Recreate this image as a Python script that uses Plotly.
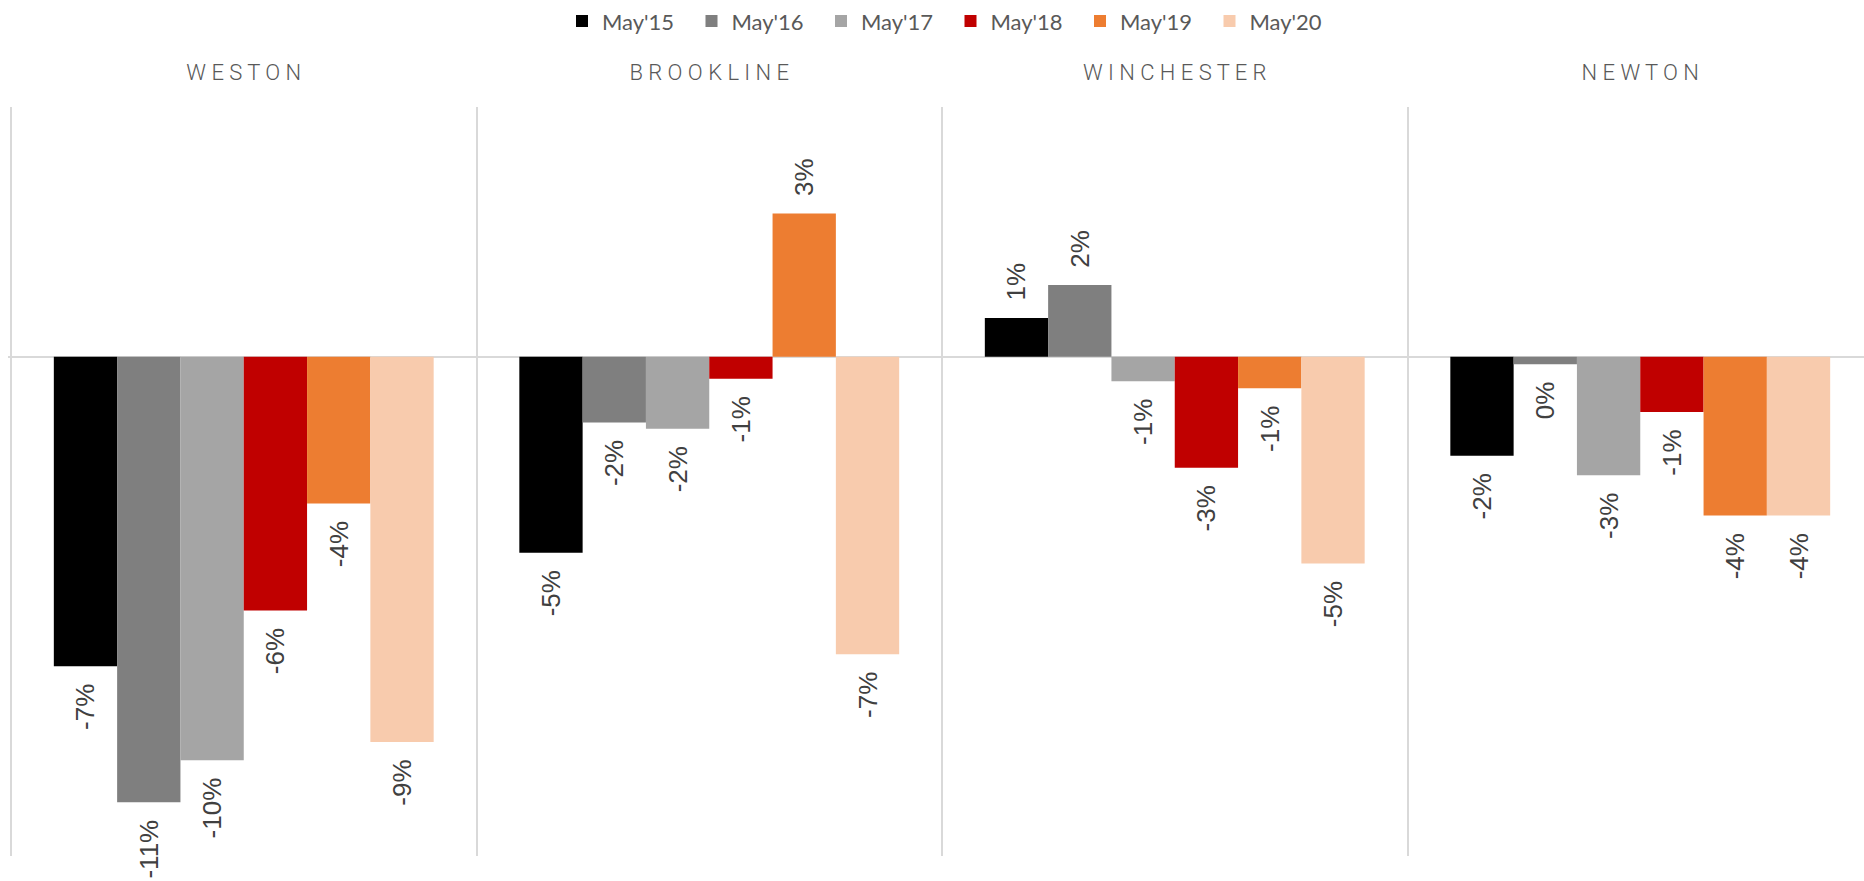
import plotly.graph_objects as go

# ---- data -------------------------------------------------------------
towns = ["WESTON", "BROOKLINE", "WINCHESTER", "NEWTON"]
series = ["May'15", "May'16", "May'17", "May'18", "May'19", "May'20"]

may15 = [-0.0744, -0.0471, 0.0093, -0.0238]
may16 = [-0.1071, -0.0158, 0.0172, -0.0018]
may17 = [-0.0970, -0.0173, -0.0059, -0.0285]
may18 = [-0.0610, -0.0053, -0.0267, -0.0133]
may19 = [-0.0353, 0.0344, -0.0076, -0.0382]
may20 = [-0.0926, -0.0715, -0.0497, -0.0382]

values = [may15, may16, may17, may18, may19, may20]
colors = ["#000000", "#7f7f7f", "#a5a5a5", "#c00000", "#ed7d31", "#f8cbad"]

# ---- layout constants ---------------------------------------------------
W, H = 1864, 881
ML, MR, MT, MB = 8, 0, 105, 25
CAT_PX = 465.5                    # pixel width of one town panel
x0 = -0.5 - 3.0 / CAT_PX          # so the first separator sits inside the plot
x1 = x0 + (W - ML - MR) / CAT_PX


def fmt(v):
    lab = f"{int(round(v * 100))}%"
    pad = "\u00a0\u00a0"
    return pad + lab if v > 0 else lab + pad


fig = go.Figure()
for name, vals, col in zip(series, values, colors):
    fig.add_trace(go.Bar(
        name=name,
        x=towns,
        y=vals,
        marker=dict(color=col, line=dict(width=0)),
        text=[fmt(v) for v in vals],
        textposition="outside",
        textangle=-90,
        constraintext="none",
        cliponaxis=False,
        textfont=dict(family="Liberation Sans, Arial, sans-serif", size=26, color="#404040"),
    ))

fig.update_layout(
    width=W, height=H,
    margin=dict(l=ML, r=MR, t=MT, b=MB, pad=0),
    paper_bgcolor="white",
    plot_bgcolor="white",
    barmode="group",
    bargap=0.184,
    bargroupgap=0,
    showlegend=True,
    legend=dict(
        orientation="h",
        x=(562 - ML) / (W - ML - MR),
        xanchor="left",
        y=1 + (MT - 19) / (H - MT - MB),
        yanchor="middle",
        font=dict(family="Lato, Open Sans, sans-serif", size=22, color="#595959"),
        entrywidth=84.5,
        entrywidthmode="pixels",
        bgcolor="rgba(0,0,0,0)",
        traceorder="normal",
    ),
    xaxis=dict(
        type="category",
        categoryorder="array",
        categoryarray=towns,
        side="top",
        tickson="boundaries",
        showgrid=True,
        gridcolor="#d9d9d9",
        gridwidth=2,
        ticks="",
        showline=False,
        zeroline=False,
        range=[x0, x1],
        labelalias={t: " ".join(t) for t in towns},
        tickfont=dict(family="Roboto, Liberation Sans, sans-serif", size=22,
                      color="#595959", weight=300),
        ticklabelstandoff=22,
        fixedrange=True,
    ),
    yaxis=dict(
        range=[-0.12, 0.06],
        showticklabels=False,
        showgrid=False,
        ticks="",
        zeroline=True,
        zerolinecolor="#d9d9d9",
        zerolinewidth=2,
        showline=False,
        fixedrange=True,
    ),
)

fig.write_html("out.html")
